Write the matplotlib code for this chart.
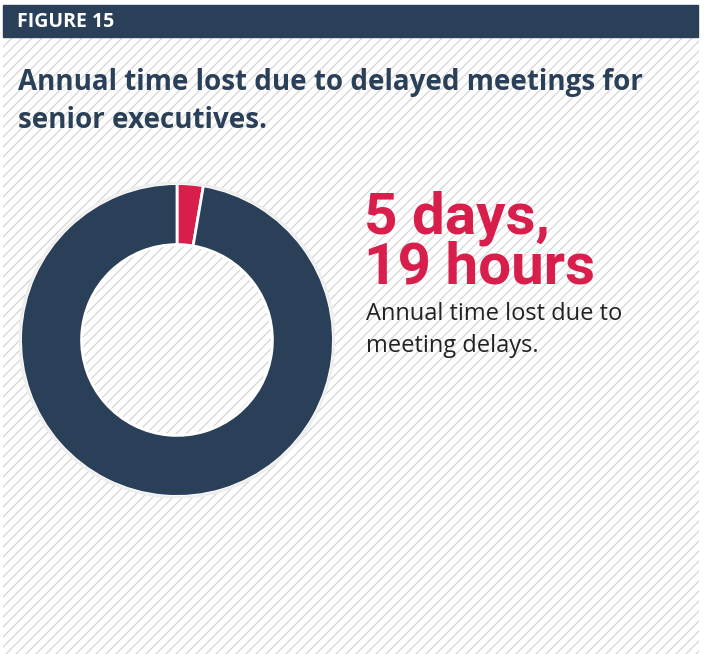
import matplotlib
matplotlib.use("Agg")
import matplotlib.pyplot as plt
import numpy as np

# chart data
slice_labels = ["Time lost to meeting delays", "Rest of year"]
slice_values = [2.7, 97.3]
figure_label = "FIGURE 15"
title_lines = ["Annual time lost due to delayed meetings for", "senior executives."]
big_stat = ["5 days,", "19 hours"]
stat_caption = ["Annual time lost due to", "meeting delays."]

NAVY = "#2a3f58"
RED = "#d81e4b"
HATCH = "#d4d4d4"
W, H = 704, 654

plt.rcParams["font.family"] = ["Open Sans", "DejaVu Sans"]

fig = plt.figure(figsize=(W / 100, H / 100), dpi=100)
bg = fig.add_axes([0, 0, 1, 1])
bg.set_xlim(0, W)
bg.set_ylim(H, 0)
bg.axis("off")

# diagonal hatch background
x0, x1, y0, y1 = 3, 699, 37, H
clip = plt.Rectangle((x0, y0), x1 - x0, y1 - y0, transform=bg.transData)
for c in np.arange(x0 - (y1 - y0), x1 + 10, 10):
    ln, = bg.plot([c, c + (y1 - y0)], [y1, y0], color=HATCH, lw=0.9, zorder=0)
    ln.set_clip_path(clip)

# header bar
bg.add_patch(plt.Rectangle((3, 5), 695, 32, color=NAVY, zorder=2))
bg.text(17, 22, figure_label, color="white", fontsize=14, fontweight="bold",
        va="center", ha="left", zorder=3)

# title
for i, line in enumerate(title_lines):
    bg.text(18, 90 + i * 38, line, color=NAVY, fontsize=20, fontweight="bold",
            va="baseline", ha="left")

# big statistic (one text block, tight leading)
bg.text(364, 283, "\n".join(big_stat), color=RED, fontsize=42, fontweight="bold",
        family=["Roboto", "DejaVu Sans"], va="baseline", ha="left",
        linespacing=0.86)
for i, line in enumerate(stat_caption):
    bg.text(366, 320 + i * 32, line, color="#222222", fontsize=17,
            va="baseline", ha="left")

# donut
cx, cy, r = 177, 340, 158
ax = fig.add_axes([(cx - r) / W, 1 - (cy + r) / H, 2 * r / W, 2 * r / H])
ax.pie(slice_values, colors=[RED, NAVY], startangle=90, counterclock=False,
       radius=1, wedgeprops=dict(width=0.39, edgecolor="white", linewidth=2))
ax.add_patch(plt.Circle((0, 0), 1.005, fill=False, ec="#eeeeee", lw=2))
ax.set_xlim(-1.01, 1.01)
ax.set_ylim(-1.01, 1.01)
ax.set_aspect("equal")
ax.axis("off")

fig.savefig("out.png", dpi=100)
